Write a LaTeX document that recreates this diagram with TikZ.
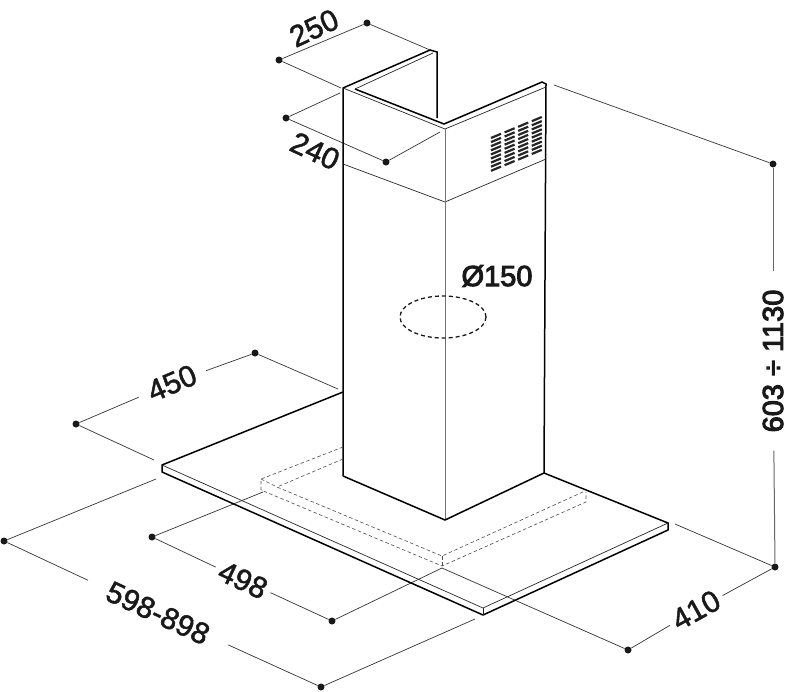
\documentclass[tikz,border=0pt]{standalone}
\usepackage{fontspec}
\setmainfont{Liberation Sans}
\newcommand{\heavy}[2]{\special{pdf:code 2 Tr #1 w}#2\special{pdf:code 0 Tr 1 w}}
\usepackage{tikz}

\tikzset{
  dimdot/.style={circle,fill=black!90,inner sep=0pt,minimum size=7pt},
  dimline/.style={line width=0.7pt,black!80},
  dimtext/.style={font=\fontsize{30}{30}\selectfont,inner sep=3pt,text=black!90},
  outline/.style={line width=1.5pt,line join=miter},
  thinline/.style={line width=0.7pt,black!85},
  hidden/.style={line width=0.6pt,black!70,dash pattern=on 3.5pt off 2.5pt}
}

\begin{document}
\begin{tikzpicture}[x=1pt,y=-1pt]

  \useasboundingbox (0,0) rectangle (800,691);

  % dots
  \node[dimdot] (w1) at (367,23) {};
  \node[dimdot] (w2) at (279,60) {};
  \node[dimdot] (n1) at (286,118) {};
  \node[dimdot] (n2) at (386,162) {};
  \node[dimdot] (h1) at (773,164) {};
  \node[dimdot] (h2) at (775,567) {};
  \node[dimdot] (d1) at (255,353) {};
  \node[dimdot] (d2) at (76,424) {};
  \node[dimdot] (c1) at (152,537) {};
  \node[dimdot] (c2) at (332,621) {};
  \node[dimdot] (l1) at (4,541) {};
  \node[dimdot] (l2) at (321,687) {};
  \node[dimdot] (s1) at (628,650) {};

  % labels
  \node[dimtext,rotate=25] (t250) at (314,28) {\heavy{0.5}{250}};
  \node[dimtext,rotate=-25] (t240) at (315,151) {\heavy{0.5}{240}};
  \node[dimtext,font=\fontsize{29}{29}\selectfont] (t150) at (497,276) {\heavy{1}{Ø150}};
  \node[dimtext,rotate=23,inner xsep=11pt] (t450) at (172,383) {\heavy{0.5}{450}};
  \node[dimtext,rotate=-25,inner xsep=5pt] (t498) at (243,580) {\heavy{0.5}{498}};
  \node[dimtext,rotate=-25,inner xsep=22pt] (t598) at (158,613) {\heavy{0.5}{598-898}};
  \node[dimtext,rotate=29,inner xsep=5pt] (t410) at (696,610) {\heavy{0.5}{410}};
  \node[dimtext,font=\fontsize{29}{29}\selectfont,rotate=90,inner xsep=18pt] (t603) at (773,361) {\heavy{1}{603 ÷ 1130}};

  % free ends of the extension lines
  \coordinate (e1) at (430,50);
  \coordinate (e2) at (341,88);
  \coordinate (e3) at (340,93);
  \coordinate (e4) at (440,132);
  \coordinate (e5) at (554,85);
  \coordinate (e6) at (675,524);
  \coordinate (e7) at (442,568);
  \coordinate (e8) at (338,389);
  \coordinate (e9) at (154,460);
  \coordinate (e10) at (263,492);
  \coordinate (e11) at (156,479);
  \coordinate (e12) at (475,619);

  \path[dimline] (w1) edge (w2) edge (e1);
  \path[dimline] (w2) edge (e2);
  \path[dimline] (n1) edge (n2) edge (e3);
  \path[dimline] (n2) edge (e4);
  \path[dimline] (h1) edge (e5);
  \path[dimline] (h2) edge (e6) edge (t410);
  \path[dimline,black!60,line width=1pt] (h1) edge (t603);
  \path[dimline,black!60,line width=1pt] (h2) edge (t603);
  \path[dimline] (s1) edge (t410) edge (e7);
  \path[dimline] (d1) edge (t450) edge (e8);
  \path[dimline] (d2) edge (t450) edge (e9);
  \path[dimline] (c1) edge (t498) edge (e10);
  \path[dimline] (c2) edge (t498) edge (e7);
  \path[dimline] (l1) edge (t598) edge (e11);
  \path[dimline] (l2) edge (t598) edge (e12);

  % chimney
  \draw[outline] (343,476) -- (343,88) -- (430,50) -- (437,52) -- (437,118);
  \draw[outline] (355,89) -- (444,124) -- (542,82) -- (546,84) -- (544,473);
  \draw[thinline] (343,88) -- (445,129) -- (546,87);
  \draw[thinline] (355,89) -- (433,53);
  \draw[thinline] (343,164) -- (445,202) -- (546,159);
  \draw[line width=0.8pt,black!55] (445,129) -- (445,520);
  \draw[outline] (343,476) -- (445,520) -- (544,473);

  % vent
  \foreach \col in {0,1,2,3}
    \foreach \row in {0,...,8}
      \draw[line width=2.2pt,black!85] ({491+13.6*\col},{138-5.6*\col+4.1*\row}) -- ++(10,-4.2);

  % plate
  \draw[outline] (343,392) -- (162,465) -- (162,472) -- (483,615) -- (668,530) -- (668,523) -- (544,473);
  \draw[thinline] (162,465) -- (483,608) -- (668,523);
  \draw[thinline] (483,608) -- (483,615);

  % hidden bracket
  \draw[hidden] (343,447) -- (261,479) -- (261,490) -- (442,566) -- (586,502) -- (586,492);
  \draw[hidden] (343,459) -- (277,487) -- (442,556) -- (585,491);
  \draw[hidden] (261,479) -- (277,487);
  \draw[hidden] (442,556) -- (442,566);

  % outlet
  \draw[line width=1.3pt,black!90,dash pattern=on 4pt off 3pt] (443,317) ellipse [x radius=43,y radius=21];

\end{tikzpicture}
\end{document}
